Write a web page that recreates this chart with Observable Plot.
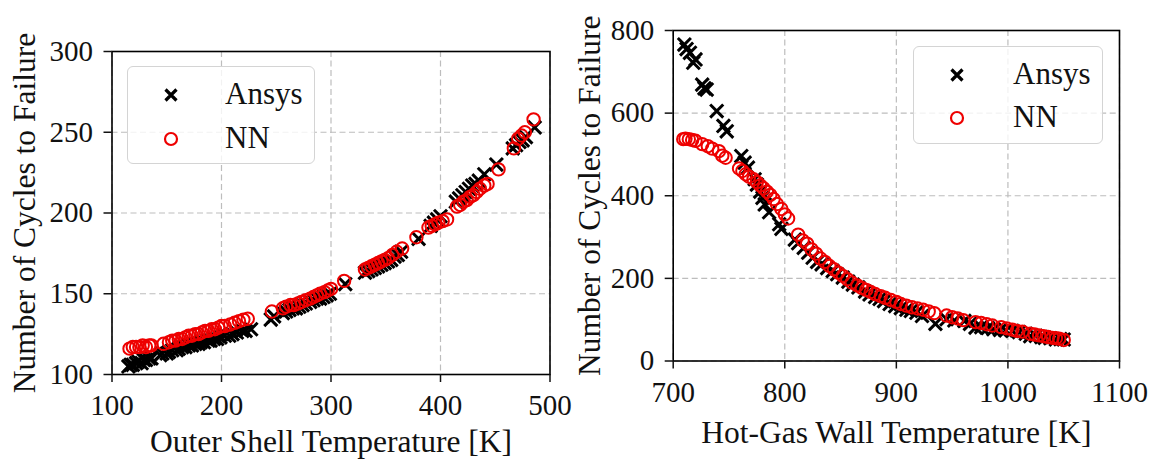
<!DOCTYPE html>
<html>
<head>
<meta charset="utf-8">
<script src="https://cdn.jsdelivr.net/npm/d3@7"></script>
<script src="https://cdn.jsdelivr.net/npm/@observablehq/plot@0.6"></script>
<style>
  html, body { margin: 0; padding: 0; background: #fff; }
  #wrap { position: relative; width: 1154px; height: 461px; overflow: hidden; font-family: "Liberation Serif", serif; color: #111; }
  .panel { position: absolute; top: 0; }
  .panel svg { overflow: visible; }
  .legend { position: absolute; border: 1.5px solid #d4d4d4; border-radius: 6px; background: rgba(255,255,255,0.8); box-sizing: border-box; }
  .legend .row { position: absolute; left: 0; font-size: 31px; line-height: 31px; }
  .legend svg { position: absolute; }
</style>
</head>
<body>
<div id="wrap"></div>
<script>
// ---------- data ----------
const seriesNames = ["Ansys", "NN"];

const outerTicksX = [100, 200, 300, 400, 500];
const outerTicksY = [100, 150, 200, 250, 300];
const hotTicksX = [700, 800, 900, 1000, 1100];
const hotTicksY = [0, 200, 400, 600, 800];

const outerXLabel = "Outer Shell Temperature [K]";
const hotXLabel = "Hot-Gas Wall Temperature [K]";
const yLabel = "Number of Cycles to Failure";

// Outer shell temperature [K], cycles to failure — Ansys
const ansysOuter = [
  [115,105],[117,106],[119,106],[122,107],[124,108],[127,107],[129,109],[131,109],[134,110],[136,110],
  [144,112],[146,113],[150,113],[152,114],[155,115],[159,115],[161,116],[164,117],[167,117],[170,118],
  [173,118],[176,119],[179,119],[181,120],[184,120],[188,121],[190,121],[193,122],[196,122],[199,123],
  [203,124],[207,124],[210,125],[214,126],[219,127],[222,127],[227,128],
  [245,134],[248,136],
  [256,138],[259,139],[262,140],[265,141],[268,141],[271,142],[274,143],[277,144],
  [281,145],[284,146],[287,147],[290,147],[293,148],[296,149],[299,150],
  [313,156],
  [331,163],[334,164],[337,165],[340,166],[343,167],[346,168],[349,169],[352,170],[355,171],[358,173],[361,174],[364,176],
  [380,184],
  [391,192],[394,194],[397,196],[400,198],
  [414,207],[417,209],[420,211],[423,213],[426,215],[429,217],[432,218],[435,220],
  [440,224],[451,230],
  [466,240],[469,242],[472,244],[475,245],[478,247],
  [486,253]
];

// Outer shell temperature [K], cycles to failure — NN
const nnOuter = [
  [116,116],[119,117],[122,117],[125,117],[128,118],[131,117],[134,118],[136,118],
  [147,119],[152,120],[155,121],[158,121],[161,122],[164,122],[167,123],[170,124],[173,124],[176,125],
  [179,125],[182,126],[185,127],[188,127],[191,128],[194,128],[197,129],[200,130],[203,130],
  [208,131],[212,132],[216,133],[220,134],[224,134.5],
  [246,139],
  [256,141],[259,142],[263,143],[266,143],[270,144],[273,145],[277,146],
  [281,147],[284,148],[287,149],[290,150],[294,151],[297,152],[300,153],
  [312,158],
  [331,165],[334,166],[337,167],[340,168],[343,169],[346,170],[349,171],[352,172],[356,174],[360,176],[365,178],
  [378,185],
  [389,191],[392,192],[395,193],[398,194],[402,195],[406,196],
  [415,204],[418,205],[421,207],[424,208],[427,210],[430,211],[433,213],[436,215],[440,217],
  [443,218],[453,227],[467,240],[471,246],[474,248],[477,250],[485,258]
];

// Hot-gas wall temperature [K], cycles to failure — Ansys
const ansysHot = [
  [710,766],[712,755],[715,746],[718,722],[720,730],[726,669],[728,660],[730,657],[739,605],[745,569],
  [748,556],[761,496],[764,480],[767,468],[773,440],[775,427],[778,410],[780,395],[782,379],[786,360],
  [795,331],[797,320],[809,294],[812,285],[817,274],[821,262],[825,250],[829,240],[833,234],[838,225],
  [843,218],[847,210],[852,202],[857,192],[861,185],[866,178],[872,168],[876,161],[881,155],[885,150],
  [889,145],[894,138],[899,133],[904,128],[909,124],[913,121],[918,117],[923,109],[935,90],[945,101],
  [952,98],[961,97],[966,90],[971,81],[976,82],[982,80],[987,77],[993,75],[998,74],[1004,73],
  [1010,70],[1016,66],[1020,60],[1025,61],[1030,58],[1033,56],[1038,55],[1043,52],[1047,53],[1050,52]
];

// Hot-gas wall temperature [K], cycles to failure — NN
const nnHot = [
  [709,537],[711,538],[714,537],[717,535],[720,533],[726,525],[731,520],[735,514],[741,508],[744,497],[747,492],
  [759,466],[762,460],[765,452],[768,446],[772,440],[775,433],[778,425],[781,418],[784,410],[787,402],
  [790,392],[793,380],[797,368],[800,355],[803,345],[812,306],[816,292],[820,284],[824,270],[828,260],
  [832,248],[836,240],[840,230],[844,222],[848,214],[852,206],[856,198],[860,190],[865,183],[869,177],
  [873,172],[877,167],[881,162],[886,157],[890,153],[895,148],[900,143],[904,138],[909,134],[914,130],
  [919,127],[924,124],[929,120],[934,116],[945,110],[950,106],[955,103],[960,99],[971,94],[976,92],
  [981,89],[986,86],[994,82],[999,79],[1004,76],[1008,73],[1013,71],[1020,66],[1024,64],[1028,62],
  [1032,60],[1036,58],[1040,56],[1043,55],[1046,54],[1050,51]
];

// ---------- drawing ----------
const FONT = "Liberation Serif";
const TICK_FS = 29;
const LABEL_FS = 31.5;

function panel({ansys, nn, ticksX, ticksY, domX, domY, xLabel, margins, xLabelDy, yLabelDx}) {
  return Plot.plot({
    width: 577,
    height: 461,
    ...margins,
    x: {domain: domX},
    y: {domain: domY},
    style: {fontFamily: FONT, fontSize: TICK_FS + "px", color: "#111", background: "transparent", overflow: "visible"},
    marks: [
      Plot.gridX(ticksX, {stroke: "#bdbdbd", strokeOpacity: 1, strokeWidth: 1.2, strokeDasharray: "6,3.5"}),
      Plot.gridY(ticksY, {stroke: "#bdbdbd", strokeOpacity: 1, strokeWidth: 1.2, strokeDasharray: "6,3.5"}),
      Plot.dot(ansys, {x: d => d[0], y: d => d[1], symbol: "times", r: 6, stroke: "#000", strokeWidth: 3}),
      Plot.dot(nn, {x: d => d[0], y: d => d[1], symbol: "circle", r: 6.2, stroke: "#ee0000", strokeWidth: 2, fill: "none"}),
      Plot.frame({stroke: "#000", strokeWidth: 1.6}),
      Plot.axisX({ticks: ticksX, tickSize: 8, tickPadding: 12, strokeWidth: 1.5, tickFormat: d => String(d), label: null, fontSize: TICK_FS}),
      Plot.axisY({ticks: ticksY, tickSize: 8, tickPadding: 11, strokeWidth: 1.5, tickFormat: d => String(d), label: null, fontSize: TICK_FS}),
      Plot.text([xLabel], {text: d => d, frameAnchor: "bottom", textAnchor: "middle", lineAnchor: "middle", dy: xLabelDy, fontSize: LABEL_FS, fill: "#111"}),
      Plot.text([yLabel], {text: d => d, frameAnchor: "left", textAnchor: "middle", lineAnchor: "middle", rotate: -90, dx: yLabelDx, fontSize: LABEL_FS, fill: "#111"})
    ]
  });
}

const wrap = document.getElementById("wrap");

const left = panel({
  ansys: ansysOuter, nn: nnOuter, ticksX: outerTicksX, ticksY: outerTicksY,
  domX: [100, 500], domY: [100, 300], xLabel: outerXLabel,
  margins: {marginLeft: 111.5, marginRight: 27.5, marginTop: 51, marginBottom: 87},
  xLabelDy: 67, yLabelDx: -87.5
});
const right = panel({
  ansys: ansysHot, nn: nnHot, ticksX: hotTicksX, ticksY: hotTicksY,
  domX: [700, 1100], domY: [0, 800], xLabel: hotXLabel,
  margins: {marginLeft: 95.7, marginRight: 35, marginTop: 30, marginBottom: 100.5},
  xLabelDy: 71.5, yLabelDx: -83.7
});

const pl = document.createElement("div"); pl.className = "panel"; pl.style.left = "0px"; pl.appendChild(left);
const pr = document.createElement("div"); pr.className = "panel"; pr.style.left = "577px"; pr.appendChild(right);
wrap.appendChild(pl); wrap.appendChild(pr);

// legends
function legend(box, markerX, rowY, textX) {
  const div = document.createElement("div");
  div.className = "legend";
  div.style.left = box.x + "px"; div.style.top = box.y + "px";
  div.style.width = box.w + "px"; div.style.height = box.h + "px";
  const ns = "http://www.w3.org/2000/svg";
  const svg = document.createElementNS(ns, "svg");
  svg.setAttribute("width", box.w); svg.setAttribute("height", box.h);
  svg.style.left = "0px"; svg.style.top = "0px";
  const s = 5.5;
  const p = document.createElementNS(ns, "path");
  p.setAttribute("d", `M${markerX - s},${rowY[0] - s}L${markerX + s},${rowY[0] + s}M${markerX - s},${rowY[0] + s}L${markerX + s},${rowY[0] - s}`);
  p.setAttribute("stroke", "#000"); p.setAttribute("stroke-width", 3.2); p.setAttribute("fill", "none");
  svg.appendChild(p);
  const c = document.createElementNS(ns, "circle");
  c.setAttribute("cx", markerX); c.setAttribute("cy", rowY[1]); c.setAttribute("r", 6);
  c.setAttribute("stroke", "#ee0000"); c.setAttribute("stroke-width", 2.2); c.setAttribute("fill", "none");
  svg.appendChild(c);
  div.appendChild(svg);
  seriesNames.forEach((name, i) => {
    const t = document.createElement("div");
    t.className = "row";
    t.textContent = name;
    t.style.left = textX + "px";
    t.style.top = (rowY[i] - 17) + "px";
    div.appendChild(t);
  });
  wrap.appendChild(div);
}
legend({x: 127, y: 66, w: 188, h: 98}, 43, [28, 72], 97);
legend({x: 913, y: 46, w: 190, h: 98}, 43, [28, 71], 99);
</script>
</body>
</html>
